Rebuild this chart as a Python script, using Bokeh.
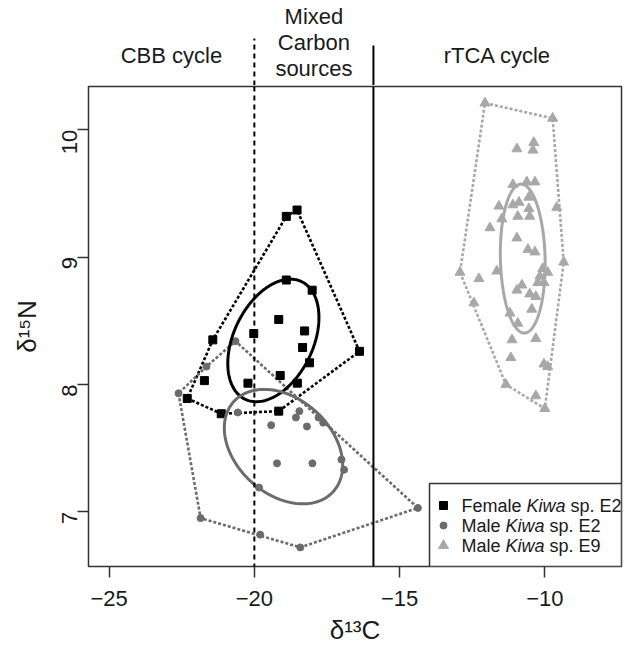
import math
import numpy as np
from bokeh.plotting import figure
from bokeh.models import Range1d, Span, FixedTicker
from bokeh.layouts import column
from bokeh.core.properties import value
from bokeh.embed import file_html
from bokeh.resources import INLINE

# ---------------- data ----------------
female_e2_d13c = [-18.53, -18.90, -18.90, -18.01, -19.16, -20.02, -18.27, -18.34, -18.10,
                  -16.38, -21.43, -21.72, -20.22, -19.11, -18.52, -22.31, -21.14, -19.16]
female_e2_d15n = [9.37, 9.32, 8.82, 8.74, 8.51, 8.40, 8.42, 8.29, 8.17,
                  8.26, 8.35, 8.03, 8.01, 8.07, 8.01, 7.89, 7.77, 7.79]

male_e2_d13c = [-21.65, -22.61, -20.65, -20.57, -18.45, -18.57, -17.79, -17.63, -19.42, -18.19,
                -19.22, -18.00, -17.00, -16.91, -19.84, -21.85, -19.80, -18.42, -14.37]
male_e2_d15n = [8.14, 7.93, 8.34, 7.78, 7.79, 7.74, 7.74, 7.70, 7.68, 7.67,
                7.38, 7.38, 7.41, 7.33, 7.19, 6.95, 6.82, 6.72, 7.03]

male_e9_d13c = [-12.06, -9.73, -10.96, -10.38, -10.41, -11.10, -10.62, -10.34, -10.55, -11.58,
                -10.89, -11.10, -9.59, -10.55, -11.48, -10.93, -10.52, -11.89, -10.96, -10.58,
                -10.34, -9.35, -11.65, -12.27, -12.92, -10.07, -9.90, -10.17, -10.24, -10.03,
                -10.79, -10.96, -10.52, -10.31, -10.45, -12.44, -11.20, -10.93, -11.13, -10.31,
                -11.17, -10.03, -9.90, -11.34, -10.31, -10.00]
male_e9_d15n = [10.21, 10.09, 9.85, 9.90, 9.84, 9.57, 9.59, 9.59, 9.47, 9.40,
                9.43, 9.41, 9.39, 9.38, 9.30, 9.32, 9.32, 9.23, 9.15, 9.06,
                9.04, 8.96, 8.89, 8.83, 8.88, 8.91, 8.88, 8.85, 8.80, 8.80,
                8.78, 8.74, 8.71, 8.69, 8.59, 8.64, 8.56, 8.48, 8.35, 8.36,
                8.21, 8.16, 8.14, 8.00, 7.91, 7.81]

series_names = ["Female", "Male", "Male"]
series_taxa = ["Kiwa", "Kiwa", "Kiwa"]
series_suffix = ["sp. E2", "sp. E2", "sp. E9"]

x_ticks = [-25, -20, -15, -10]
x_tick_labels = ["\u221225", "\u221220", "\u221215", "\u221210"]
y_ticks = [7, 8, 9, 10]
y_tick_labels = ["7", "8", "9", "10"]

boundary_cbb = -20.0     # CBB | mixed
boundary_rtca = -15.9    # mixed | rTCA
region_titles = [["CBB cycle"], ["Mixed", "Carbon", "sources"], ["rTCA cycle"]]

# ---------------- layout / style ----------------
X_LO, X_HI = -25.71, -7.36
Y_LO, Y_HI = 6.57, 10.34
FRAME_W, FRAME_H = 533, 480
TOP_H = 85
FONT = "Liberation Sans"
BLACK = "#000000"
C_FEMALE = "#000000"
C_MALE2 = "#6b6b6b"
C_MALE9 = "#a8a8a8"
FRAME_COL = "#333333"


def convex_hull(xs, ys):
    pts = sorted(set(zip(xs, ys)))

    def cross(o, a, b):
        return (a[0] - o[0]) * (b[1] - o[1]) - (a[1] - o[1]) * (b[0] - o[0])

    lower, upper = [], []
    for pt in pts:
        while len(lower) >= 2 and cross(lower[-2], lower[-1], pt) <= 0:
            lower.pop()
        lower.append(pt)
    for pt in reversed(pts):
        while len(upper) >= 2 and cross(upper[-2], upper[-1], pt) <= 0:
            upper.pop()
        upper.append(pt)
    hull = lower[:-1] + upper[:-1]
    hull.append(hull[0])
    return [h[0] for h in hull], [h[1] for h in hull]


def std_ellipse(xs, ys, n=240):
    x = np.asarray(xs, float)
    y = np.asarray(ys, float)
    k = len(x)
    cov = np.cov(x, y) * (k - 1) / (k - 2)
    vals, vecs = np.linalg.eigh(cov)
    t = np.linspace(0, 2 * np.pi, n)
    circ = np.vstack([np.cos(t), np.sin(t)])
    pts = vecs @ (np.sqrt(vals)[:, None] * circ)
    return (x.mean() + pts[0]).tolist(), (y.mean() + pts[1]).tolist()


# ---------------- main plot ----------------
p = figure(width=625, height=568, x_range=Range1d(X_LO, X_HI), y_range=Range1d(Y_LO, Y_HI),
           min_border_left=88, min_border_right=4, min_border_top=1, min_border_bottom=87,
           toolbar_location=None, output_backend="svg")
p.grid.visible = False
p.outline_line_color = FRAME_COL
p.outline_line_width = 1.5
p.background_fill_color = "white"
p.border_fill_color = "white"

for ax in (p.xaxis[0], p.yaxis[0]):
    ax.axis_line_color = None
    ax.major_tick_in = 0
    ax.major_tick_out = 11
    ax.major_tick_line_color = FRAME_COL
    ax.major_tick_line_width = 1.5
    ax.minor_tick_line_color = None
    ax.major_label_text_font = FONT
    ax.major_label_text_font_size = "22px"
    ax.major_label_text_color = "#1a1a1a"
    ax.axis_label_text_font = FONT
    ax.axis_label_text_font_size = "26px"
    ax.axis_label_text_font_style = "normal"
    ax.axis_label_text_color = "#1a1a1a"

p.xaxis.ticker = FixedTicker(ticks=x_ticks)
p.xaxis.major_label_overrides = dict(zip(x_ticks, x_tick_labels))
p.xaxis.major_label_standoff = 13
p.xaxis.axis_label = "\u03b4\u00b9\u00b3C"
p.xaxis.axis_label_standoff = 6

p.yaxis.ticker = FixedTicker(ticks=y_ticks)
p.yaxis.major_label_overrides = dict(zip(y_ticks, y_tick_labels))
p.yaxis.major_label_orientation = math.pi / 2
p.yaxis.major_label_standoff = 8
p.yaxis.axis_label = "\u03b4\u00b9\u2075N"
p.yaxis.axis_label_standoff = 10

# boundaries
p.add_layout(Span(location=boundary_cbb, dimension="height", line_color=BLACK,
                  line_width=2, line_dash="5 4"))
p.add_layout(Span(location=boundary_rtca, dimension="height", line_color=BLACK,
                  line_width=2))

groups = [
    (female_e2_d13c, female_e2_d15n, C_FEMALE, "square", 8),
    (male_e2_d13c, male_e2_d15n, C_MALE2, "circle", 7),
    (male_e9_d13c, male_e9_d15n, C_MALE9, "triangle", 10),
]

for xs, ys, col, mk, sz in groups:
    hx, hy = convex_hull(xs, ys)
    p.line(hx, hy, line_color=col, line_width=2.6, line_dash="3 2")

for xs, ys, col, mk, sz in groups:
    p.scatter(xs, ys, marker=mk, size=sz, fill_color=col, line_color=col)

for xs, ys, col, mk, sz in groups:
    ex, ey = std_ellipse(xs, ys)
    p.line(ex, ey, line_color=col, line_width=3)

# ---------------- legend (manual, to allow italic genus) ----------------
ux = (X_HI - X_LO) / FRAME_W
uy = (Y_HI - Y_LO) / FRAME_H
box_w, box_h = 192, 83
p.quad(left=[X_HI - box_w * ux], right=[X_HI], bottom=[Y_LO], top=[Y_LO + box_h * uy],
       fill_color="white", line_color=FRAME_COL, line_width=1.5)

row_px = [61, 41, 21]
mark_px = 178
text_px = 160
fs = 18
w_name = {"Female": (3.334 + 0.278) * fs, "Male": (2.167 + 0.278) * fs}
w_taxon = (2.167 + 0.278) * fs
for i, (xs, ys, col, mk, sz) in enumerate(groups):
    yy = Y_LO + row_px[i] * uy
    p.scatter([X_HI - mark_px * ux], [yy], marker=mk, size=sz,
              fill_color=col, line_color=col)
    x0 = X_HI - text_px * ux
    x1 = x0 + w_name[series_names[i]] * ux
    x2 = x1 + w_taxon * ux
    for xx, txt, style in ((x0, series_names[i], "normal"),
                           (x1, series_taxa[i], "italic"),
                           (x2, series_suffix[i], "normal")):
        p.text([xx], [yy], text=[txt], text_font=value(FONT), text_font_size="18px",
               text_font_style=style, text_color="#1a1a1a",
               text_align="left", text_baseline="middle")

# ---------------- header strip with regime labels ----------------
top = figure(width=625, height=TOP_H, x_range=p.x_range, y_range=Range1d(0, TOP_H),
             min_border_left=88, min_border_right=4, min_border_top=0, min_border_bottom=0,
             x_axis_location=None, y_axis_location=None,
             toolbar_location=None, output_backend="svg")
top.grid.visible = False
top.outline_line_color = None
top.background_fill_color = "white"
top.border_fill_color = "white"

top.segment(x0=[boundary_cbb], y0=[0], x1=[boundary_cbb], y1=[47],
            line_color=BLACK, line_width=2, line_dash="5 4")
top.segment(x0=[boundary_rtca], y0=[0], x1=[boundary_rtca], y1=[40],
            line_color=BLACK, line_width=2)

edges = [X_LO, boundary_cbb, boundary_rtca, X_HI]
single_base = 30
multi_base = [69, 43, 17]
tx, ty, tt = [], [], []
for i, lines in enumerate(region_titles):
    xc = 0.5 * (edges[i] + edges[i + 1])
    bases = [single_base] if len(lines) == 1 else multi_base
    for b, line in zip(bases, lines):
        tx.append(xc)
        ty.append(b)
        tt.append(line)
top.text(tx, ty, text=tt, text_font=value(FONT), text_font_size="22px",
         text_color="#1a1a1a", text_align="center", text_baseline="alphabetic")

layout = column(top, p, spacing=0)
open("out.html", "w").write(file_html(layout, INLINE))
